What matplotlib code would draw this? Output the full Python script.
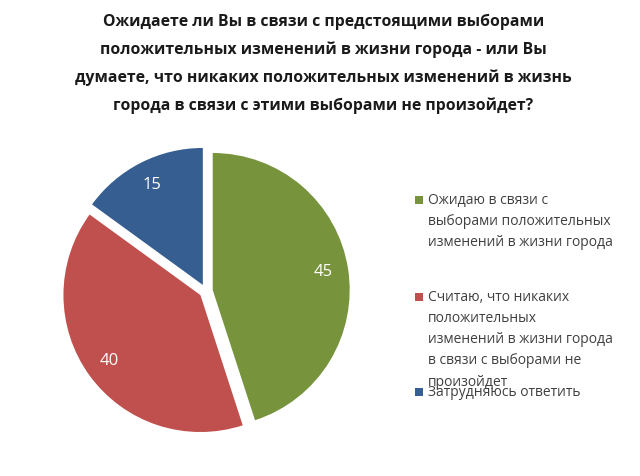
import matplotlib.pyplot as plt
from matplotlib.patches import Rectangle

plt.rcParams['font.family'] = ['Open Sans', 'DejaVu Sans']

title = ("Ожидаете ли Вы в связи с предстоящими выборами\n"
         "положительных изменений в жизни города - или Вы\n"
         "думаете, что никаких положительных изменений в жизнь\n"
         "города в связи с этими выборами не произойдет?")
labels = ["Ожидаю в связи с\nвыборами положительных\nизменений в жизни города",
          "Считаю, что никаких\nположительных\nизменений в жизни города\nв связи с выборами не\nпроизойдет",
          "Затрудняюсь ответить"]
values = [45, 40, 15]
colors = ['#77933C', '#C0504D', '#375E91']

fig = plt.figure(figsize=(6.4, 4.76), dpi=100)

fig.text(0.505, 1 - 14 / 476, title, ha='center', va='top', fontsize=11.3,
         fontweight='bold', color='#1a1a1a', linespacing=1.92,
         multialignment='center')

ax = fig.add_axes([0.1078, 0.1008, 0.428, 0.5756])
wedges, texts = ax.pie(values, colors=colors, startangle=90, counterclock=False,
                       explode=[0.05, 0.05, 0.05], labels=[str(v) for v in values],
                       labeldistance=0.82, wedgeprops=dict(linewidth=0))
for t in texts:
    t.set_color('white')
    t.set_fontsize(12)
    t.set_ha('center')
    t.set_va('center')
ax.set_xlim(-1, 1)
ax.set_ylim(-1, 1)
ax.set_aspect('equal')
ax.axis('off')

# legend
leg_y = [200, 297, 392]
for lab, c, y in zip(labels, colors, leg_y):
    yf = 1 - y / 476
    fig.patches.append(Rectangle((415 / 640, yf - 4 / 476), 8 / 640, 8 / 476,
                                 transform=fig.transFigure, facecolor=c,
                                 edgecolor='none'))
    fig.text(428 / 640, yf + 7 / 476, lab, ha='left', va='top', fontsize=10,
             color='#404040', linespacing=1.56)

fig.savefig('out.png', dpi=100)
